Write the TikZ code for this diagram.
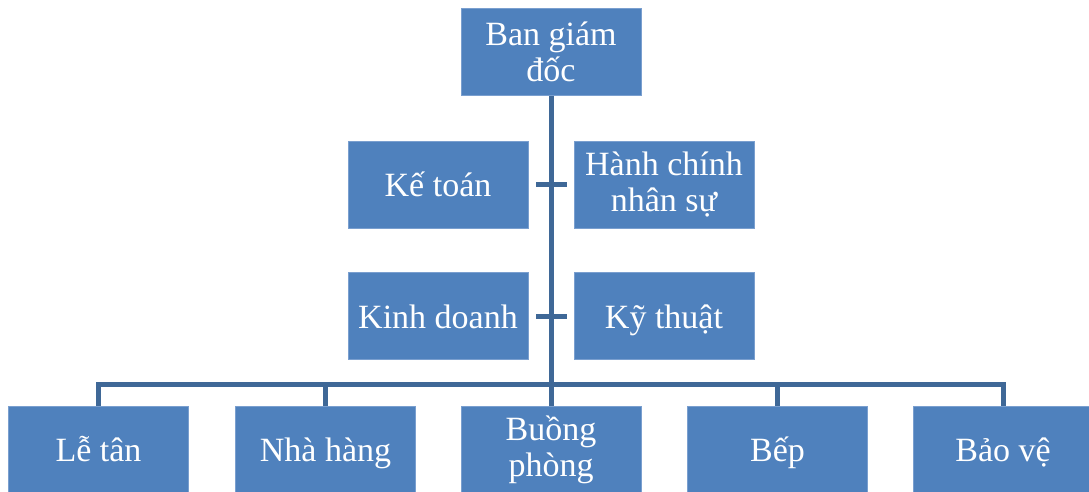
\documentclass[tikz,border=0pt]{standalone}
\usepackage{fontspec}
\setmainfont{Liberation Serif}
\definecolor{boxfill}{HTML}{4F81BD}
\definecolor{boxedge}{HTML}{7A9FCF}
\definecolor{linecol}{HTML}{3F6897}
\begin{document}
\begin{tikzpicture}[x=1pt,y=-1pt,
  orgbox/.style={rectangle, fill=boxfill, draw=boxedge, line width=0.8pt,
    minimum width=180pt, minimum height=87pt, inner sep=2pt, text=white,
    align=center, font=\fontsize{34}{36}\selectfont},
  single/.style={text height=24pt, text depth=0pt},
  conn/.style={draw=linecol, line width=5pt}]
\useasboundingbox (0,0) rectangle (1089,492);
\node[orgbox] (bgd) at (551,52) {Ban giám\\đốc};
\node[orgbox, single] (kt) at (438,184.5) {Kế toán};
\node[orgbox] (hc) at (664,184.5) {Hành chính\\nhân sự};
\node[orgbox, single] (kd) at (438,316) {Kinh doanh};
\node[orgbox, single] (kth) at (664,316) {Kỹ thuật};
\node[orgbox, single] (lt) at (98.5,449.5) {Lễ tân};
\node[orgbox, single] (nh) at (325.5,449.5) {Nhà hàng};
\node[orgbox] (bp) at (551,449.5) {Buồng\\phòng};
\node[orgbox, single] (bep) at (777.5,449.5) {Bếp};
\node[orgbox, single] (bv) at (1003,449.5) {Bảo vệ};
\coordinate (bus) at (551,384.5);
\draw[conn] (bgd.south) -- (bus);
\draw[conn, shorten <=8pt, shorten >=7pt] (kt.east) -- (hc.west);
\draw[conn, shorten <=8pt, shorten >=7pt] (kd.east) -- (kth.west);
\draw[conn] (lt.north) -- (lt.north |- bus) -- (bv.north |- bus) -- (bv.north);
\draw[conn] (nh.north |- bus) -- (nh.north);
\draw[conn] (bus) -- (bp.north);
\draw[conn] (bep.north |- bus) -- (bep.north);
\end{tikzpicture}
\end{document}
